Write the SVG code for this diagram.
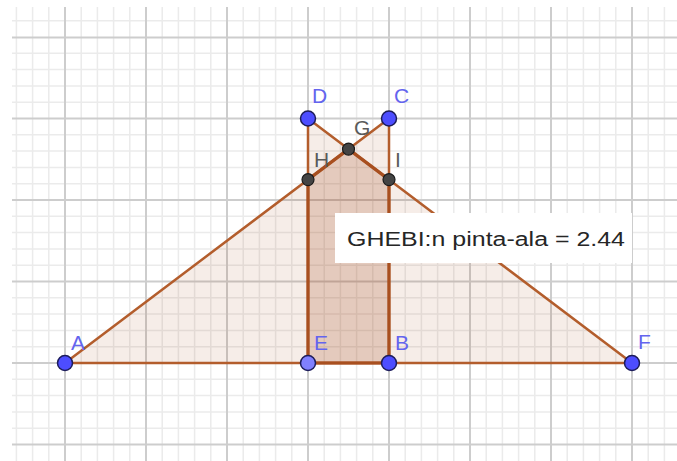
<svg xmlns="http://www.w3.org/2000/svg" width="677" height="461" viewBox="0 0 677 461">
<style>
.minor{stroke:#ebebeb;stroke-width:1.5;fill:none}
.major{stroke:#cdcdcd;stroke-width:2;fill:none}
.tri{fill:#993300;fill-opacity:0.09;stroke:#b35d2c;stroke-width:2.5;stroke-linejoin:round}
.pent{fill:#993300;fill-opacity:0.1;stroke:#a84f1f;stroke-width:3.2;stroke-linejoin:round}
.free{fill:#4d4dff;stroke:#1c1c5a;stroke-width:1.5}
.onpath{fill:#8080ff;stroke:#1c1c5a;stroke-width:1.5}
.dep{fill:#444444;stroke:#1a1a1a;stroke-width:1.2}
.lb{font-family:"Liberation Sans",Arial,sans-serif;font-size:21px;fill:#6464ee}
.lg{font-family:"Liberation Sans",Arial,sans-serif;font-size:21px;fill:#5a5a5a}
.cap{font-family:"Liberation Sans",Arial,sans-serif;font-size:20px;fill:#262626}
</style>
<rect x="0" y="0" width="677" height="461" fill="#ffffff"/>
<g id="grid">
<path class="minor" d="M16.4 7V461M32.6 7V461M48.8 7V461M81.2 7V461M97.4 7V461M113.6 7V461M129.8 7V461M162.2 7V461M178.4 7V461M194.6 7V461M210.8 7V461M243.2 7V461M259.4 7V461M275.6 7V461M291.8 7V461M324.2 7V461M340.4 7V461M356.6 7V461M372.8 7V461M405.2 7V461M421.4 7V461M437.6 7V461M453.8 7V461M486.2 7V461M502.4 7V461M518.6 7V461M534.8 7V461M567.2 7V461M583.4 7V461M599.6 7V461M615.8 7V461M648.2 7V461M664.4 7V461
M12 20.7H677M12 53.3H677M12 69.6H677M12 85.9H677M12 102.2H677M12 134.8H677M12 151.1H677M12 167.4H677M12 183.7H677M12 216.3H677M12 232.6H677M12 248.9H677M12 265.2H677M12 297.8H677M12 314.1H677M12 330.4H677M12 346.7H677M12 379.3H677M12 395.6H677M12 411.9H677M12 428.2H677"/>
<path class="major" d="M65 7V461M146 7V461M227 7V461M308 7V461M389 7V461M470 7V461M551 7V461M632 7V461
M12 37.5H677M12 118.5H677M12 200H677M12 281.5H677M12 363H677M12 444.5H677"/>
</g>
<g id="shapes">
<polygon id="triABC" class="tri" points="65,363 389,363 389,118.5"/>
<polygon id="triEFD" class="tri" points="308,363 632,363 308,118.5"/>
<polygon id="GHEBI" class="pent" points="348.5,149.1 308,179.6 308,363 389,363 389,179.6"/>
</g>
<g id="areaText">
<rect x="335" y="213" width="297" height="50" fill="#ffffff"/>
<text class="cap" x="347" y="246" textLength="278" lengthAdjust="spacingAndGlyphs">GHEBI:n pinta-ala = 2.44</text>
</g>
<g id="A"><circle class="free" cx="65" cy="363" r="7.5"/><text class="lb" x="71" y="350">A</text></g>
<g id="E"><circle class="onpath" cx="308" cy="363" r="7.5"/><text class="lb" x="314" y="350">E</text></g>
<g id="B"><circle class="free" cx="389" cy="363" r="7.5"/><text class="lb" x="395" y="350">B</text></g>
<g id="F"><circle class="free" cx="632" cy="363" r="7.5"/><text class="lb" x="638" y="349">F</text></g>
<g id="D"><circle class="free" cx="308" cy="118.5" r="7.5"/><text class="lb" x="312" y="103">D</text></g>
<g id="C"><circle class="free" cx="389" cy="118.5" r="7.5"/><text class="lb" x="394" y="103">C</text></g>
<g id="G"><circle class="dep" cx="348.5" cy="149.1" r="6"/><text class="lg" x="354" y="135">G</text></g>
<g id="H"><circle class="dep" cx="308" cy="179.6" r="6"/><text class="lg" x="314" y="167">H</text></g>
<g id="I"><circle class="dep" cx="389" cy="179.6" r="6"/><text class="lg" x="395" y="167">I</text></g>
</svg>
